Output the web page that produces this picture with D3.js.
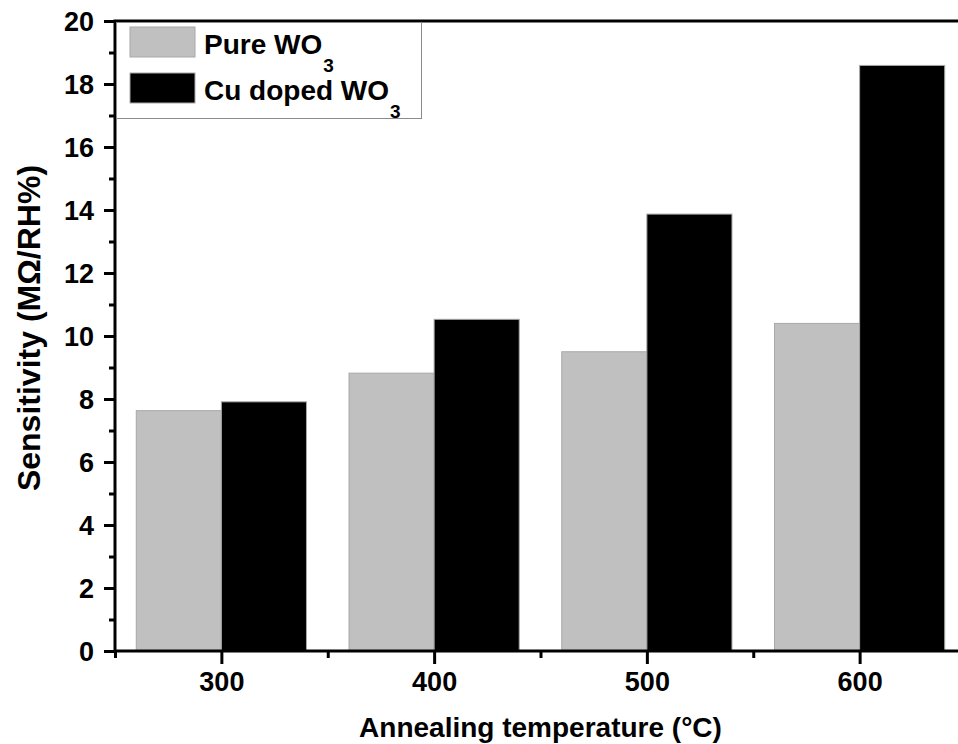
<!DOCTYPE html>
<html>
<head>
<meta charset="utf-8">
<script src="https://cdn.jsdelivr.net/npm/d3@7"></script>
<style>
  body { margin: 0; background: #fff; }
  svg { display: block; font-family: "Liberation Sans", Arial, sans-serif; font-weight: bold; }
</style>
</head>
<body>
<div id="chart"></div>
<script>
// annealing temperatures and sensitivity readings
const temps = [300, 400, 500, 600];
const pureWO3 = [7.63, 8.82, 9.5, 10.4];
const cuDopedWO3 = [7.91, 10.53, 13.87, 18.59];
const yTicks = [0, 2, 4, 6, 8, 10, 12, 14, 16, 18, 20];
const seriesNames = ['Pure WO', 'Cu doped WO'];

const width = 958,
    height = 744,
    margin = { left: 115, top: 21, right: -8, bottom: 93 };

const svg = d3.select('#chart')
    .append('svg')
    .attr('width', width)
    .attr('height', height);

// x domain runs a bit past the window, the right frame is cut off
const x = d3.scaleLinear()
    .domain([250, 650])
    .range([margin.left, width - margin.right]);

const y = d3.scaleLinear()
    .domain([0, 20])
    .range([height - margin.bottom, margin.top]);

const barW = 40; // in °C units
const fills = ['#c0c0c0', '#000000'];

const series = [pureWO3, cuDopedWO3];
series.forEach((vals, i) => {
    svg.append('g')
        .selectAll('rect')
        .data(vals)
        .enter().append('rect')
        .attr('x', (d, j) => x(temps[j] - (i === 0 ? barW : 0)))
        .attr('width', x(barW) - x(0))
        .attr('y', (d) => y(d))
        .attr('height', (d) => y(0) - y(d))
        .attr('fill', fills[i])
        .attr('stroke', '#a8a8a8')
        .attr('stroke-width', 1);
});

// axes
const yAxis = d3.axisLeft(y)
    .tickValues(yTicks)
    .tickSize(11)
    .tickPadding(10);

const yMinor = d3.axisLeft(y)
    .tickValues(d3.range(1, 20, 2))
    .tickSize(6)
    .tickFormat('');

const xAxis = d3.axisBottom(x)
    .tickValues(temps)
    .tickSize(13)
    .tickPadding(8);

const xMinor = d3.axisBottom(x)
    .tickValues([250, 350, 450, 550, 650])
    .tickSize(7)
    .tickFormat('');

function styleAxis(g) {
    g.select('.domain').remove();
    g.selectAll('line').attr('stroke', '#000').attr('stroke-width', 3);
    g.selectAll('text').attr('fill', '#000').style('font-size', '27px');
}

svg.append('g')
    .attr('transform', `translate(${margin.left},0)`)
    .call(yMinor).call(styleAxis);
svg.append('g')
    .attr('transform', `translate(${margin.left},0)`)
    .call(yAxis).call(styleAxis)
    .selectAll('text').attr('dy', '0.36em');

svg.append('g')
    .attr('transform', `translate(0,${y(0)})`)
    .call(xMinor).call(styleAxis);
svg.append('g')
    .attr('transform', `translate(0,${y(0)})`)
    .call(xAxis).call(styleAxis);

// frame: left, bottom, top (right is off screen)
svg.append('path')
    .attr('d', `M${x(650)},${y(20)}H${x(250)}V${y(0)}H${x(650)}`)
    .attr('fill', 'none')
    .attr('stroke', '#000')
    .attr('stroke-width', 3);

// legend
const legend = svg.append('g');
legend.append('rect')
    .attr('x', x(250) + 1.5)
    .attr('y', y(20) + 1.5)
    .attr('width', 305)
    .attr('height', 96)
    .attr('fill', '#fff')
    .attr('stroke', '#8a8a8a')
    .attr('stroke-width', 1);

seriesNames.forEach((name, i) => {
    const gy = y(20) + 6 + i * 46;
    legend.append('rect')
        .attr('x', 130)
        .attr('y', gy)
        .attr('width', 65)
        .attr('height', 30)
        .attr('fill', fills[i])
        .attr('stroke', '#a8a8a8')
        .attr('stroke-width', 1);
    const t = legend.append('text')
        .attr('x', 204)
        .attr('y', gy + 27)
        .style('font-size', '28px')
        .attr('fill', '#000');
    t.append('tspan').text(name);
    t.append('tspan')
        .attr('dx', 1)
        .attr('dy', 18)
        .style('font-size', '19px')
        .text('3');
});

// axis titles
svg.append('text')
    .attr('x', (x(250) + x(650)) / 2)
    .attr('y', 737)
    .attr('text-anchor', 'middle')
    .style('font-size', '28px')
    .text('Annealing temperature (\u00B0C)');

svg.append('text')
    .attr('transform', `translate(40,328) rotate(-90)`)
    .attr('text-anchor', 'middle')
    .style('font-size', '32px')
    .text('Sensitivity (M\u03A9/RH%)');
</script>
</body>
</html>
